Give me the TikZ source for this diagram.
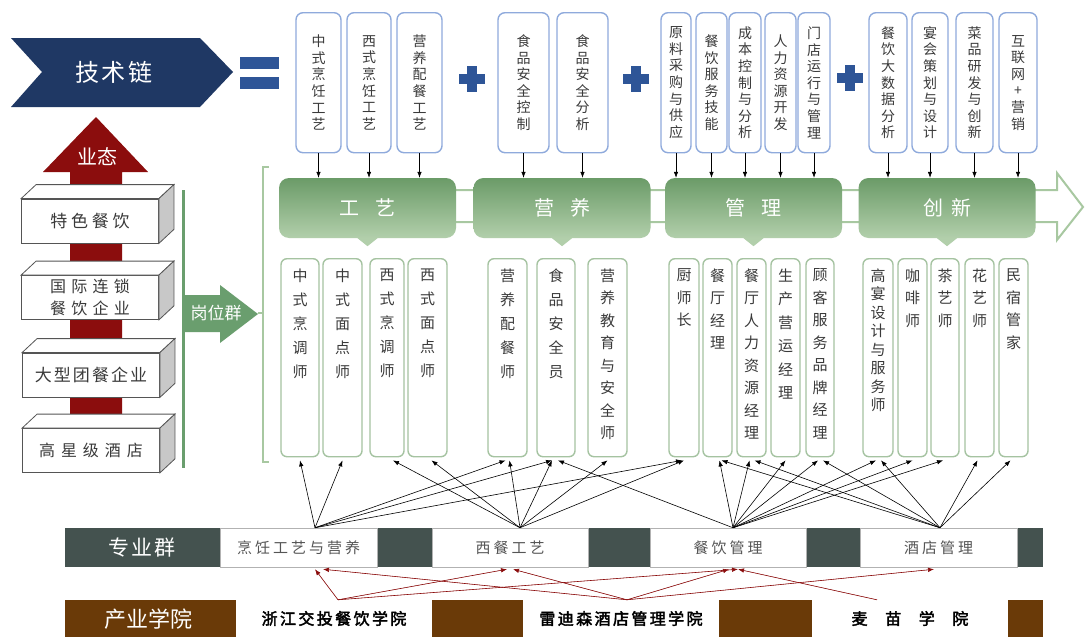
\documentclass[tikz,border=0pt]{standalone}
\usepackage{fontspec}
\setmainfont{Noto Sans CJK SC}
\newfontfamily\cjkbold{Noto Sans CJK SC}[FakeBold=2.5]
\usetikzlibrary{arrows.meta,calc}

\definecolor{navy}{HTML}{1F3864}
\definecolor{plusblue}{HTML}{2E5597}
\definecolor{darkred}{HTML}{8B0D0D}
\definecolor{arrgreen}{HTML}{6A9E6E}
\definecolor{catdark}{HTML}{6B9B68}
\definecolor{catlight}{HTML}{B2CFAB}
\definecolor{paleline}{HTML}{A8C8A1}
\definecolor{topline}{HTML}{8FAADC}
\definecolor{jobline}{HTML}{A5C3A1}
\definecolor{cubeline}{HTML}{555555}
\definecolor{cubeside}{HTML}{C8C8C8}
\definecolor{slate}{HTML}{44524F}
\definecolor{brownband}{HTML}{6A3A08}
\definecolor{txtgray}{HTML}{3A3A3A}
\definecolor{zytext}{HTML}{555555}

\tikzset{
  chainbox/.style={draw=topline, line width=1.4pt, rounded corners=7pt, fill=white,
    minimum height=140pt, inner sep=0pt, anchor=north, align=center, text=txtgray,
    font=\fontsize{14}{16.6}\selectfont},
  catbox/.style={rounded corners=10pt, top color=catdark, bottom color=catlight,
    minimum width=177pt, minimum height=60pt, text=white,
    font=\fontsize{20}{24}\selectfont},
  jobbox/.style={draw=jobline, line width=1.4pt, rounded corners=6pt, fill=white,
    minimum height=198pt, inner xsep=0pt, inner ysep=6pt, anchor=north, text=txtgray},
  cubefront/.style={draw=cubeline, line width=0.8pt, fill=white, minimum width=137pt,
    minimum height=44pt, text=txtgray, align=center},
  chainarrow/.style={-{Latex[length=6pt,width=4.5pt]}, line width=0.6pt},
  jobarrow/.style={-{Latex[length=6pt,width=4.5pt]}, line width=0.6pt},
  redarrow/.style={-{Latex[length=6pt,width=4.5pt]}, line width=0.6pt, draw=darkred, fill=darkred},
  zybox/.style={draw=gray!60, line width=0.5pt, fill=white, minimum height=39pt, text=zytext,
    font=\fontsize{15}{18}\selectfont\addfontfeatures{LetterSpace=20}},
  cybox/.style={fill=white, minimum height=37pt, minimum width=196pt, text=black,
    font=\cjkbold\fontsize{16}{19}\selectfont\addfontfeatures{LetterSpace=15}},
}

\newcommand\jobtext[2][22.5]{\parbox[t][186pt][t]{16pt}{\centering\fontsize{15}{#1}\selectfont\vspace*{4pt}#2}}

\begin{document}
\begin{tikzpicture}[x=1pt, y=-1pt]
\useasboundingbox (0,0) rectangle (1085,637);
\fill[white] (0,0) rectangle (1085,637);

% technology chain banner
\fill[navy] (11,38) -- (200,38) -- (233,72) -- (200,107) -- (11,107) -- (42,72) -- cycle;
\node[text=white, font=\fontsize{24}{28}\selectfont\addfontfeatures{LetterSpace=12}] (jsl) at (114,72) {技术链};
\fill[plusblue] (240,57) rectangle (279,69);
\fill[plusblue] (240,77) rectangle (279,89);
\foreach \cx/\cy in {471.5/79, 636/79, 849.5/78} {
  \fill[plusblue] (\cx-13,\cy-5) rectangle (\cx+13,\cy+5);
  \fill[plusblue] (\cx-5,\cy-13) rectangle (\cx+5,\cy+13);
}

% chain items
\node[chainbox, minimum width=45pt] (t1) at (318.5,12) {中\\式\\烹\\饪\\工\\艺};
\node[chainbox, minimum width=44pt] (t2) at (369,12) {西\\式\\烹\\饪\\工\\艺};
\node[chainbox, minimum width=45pt] (t3) at (419.5,12) {营\\养\\配\\餐\\工\\艺};
\node[chainbox, minimum width=51pt] (t4) at (523.5,12) {食\\品\\安\\全\\控\\制};
\node[chainbox, minimum width=51pt] (t5) at (582.5,12) {食\\品\\安\\全\\分\\析};
\node[chainbox, minimum width=30pt] (t6) at (676,12) {原\\料\\采\\购\\与\\供\\应};
\node[chainbox, minimum width=31pt] (t7) at (711.5,12) {餐\\饮\\服\\务\\技\\能};
\node[chainbox, minimum width=32pt] (t8) at (745,12) {成\\本\\控\\制\\与\\分\\析};
\node[chainbox, minimum width=31pt] (t9) at (780.5,12) {人\\力\\资\\源\\开\\发};
\node[chainbox, minimum width=32pt] (t10) at (814,12) {门\\店\\运\\行\\与\\管\\理};
\node[chainbox, minimum width=38pt] (t11) at (888,12) {餐\\饮\\大\\数\\据\\分\\析};
\node[chainbox, minimum width=36pt] (t12) at (930,12) {宴\\会\\策\\划\\与\\设\\计};
\node[chainbox, minimum width=37pt] (t13) at (974.5,12) {菜\\品\\研\\发\\与\\创\\新};
\node[chainbox, minimum width=38pt] (t14) at (1018,12) {互\\联\\网\\+\\营\\销};

% hollow arrow behind the categories
\draw[paleline, line width=2pt, line join=miter, fill=white] (285,190) -- (1057,190) -- (1057,173)
  -- (1083,207) -- (1057,240) -- (1057,222) -- (285,222);

% categories
\node[catbox] (g1) at (367.5,208) {工\hspace{16pt}艺};
\node[catbox] (g2) at (562,208) {营\hspace{16pt}养};
\node[catbox] (g3) at (753.5,208) {管\hspace{16pt}理};
\node[catbox] (g4) at (947,208) {创\hspace{8pt}新};
\foreach \g in {g1,g2,g3,g4}
  \fill[catlight] ([xshift=-10pt]\g.south) -- ([yshift=-8pt]\g.south) -- ([xshift=10pt]\g.south) -- cycle;

\foreach \t/\g in {t1/g1,t2/g1,t3/g1,t4/g2,t5/g2,t6/g3,t7/g3,t8/g3,t9/g3,t10/g3,t11/g4,t12/g4,t13/g4,t14/g4}
  \draw[chainarrow] (\t.south) -- (\t.south |- \g.north);

% business forms
\fill[darkred] (70,470) -- (70,172) -- (43,172) -- (96,117) -- (148,172) -- (122,172) -- (122,470) -- cycle;
\node[text=white, font=\fontsize{20}{24}\selectfont] (yt) at (97,157) {业态};

\node[cubefront, font=\fontsize{17}{20}\selectfont\addfontfeatures{LetterSpace=22}] (c1) at (90,221) {特色餐饮};
\node[cubefront, font=\fontsize{16}{22}\selectfont\addfontfeatures{LetterSpace=33}] (c2) at (90,297.5) {国际连锁\\餐饮企业};
\node[cubefront, font=\fontsize{17}{20}\selectfont\addfontfeatures{LetterSpace=12}] (c3) at (91,375) {大型团餐企业};
\node[cubefront, font=\fontsize{16}{20}\selectfont\addfontfeatures{LetterSpace=37}] (c4) at (91,450.5) {高星级酒店};
\foreach \c in {c1,c2,c3,c4} {
  \filldraw[fill=white, draw=cubeline, line width=0.8pt] (\c.north west) -- ++(15,-14)
    -- ($(\c.north east)+(15,-14)$) -- (\c.north east) -- cycle;
  \filldraw[fill=cubeside, draw=cubeline, line width=0.8pt] (\c.north east) -- ++(15,-14)
    -- ($(\c.south east)+(15,-14)$) -- (\c.south east) -- cycle;
}

% post group
\draw[arrgreen, line width=3pt] (183,190) -- (183,468);
\fill[arrgreen] (183,295) -- (220,295) -- (220,285) -- (258,314) -- (220,343) -- (220,332) -- (183,332) -- cycle;
\node[text=white, font=\fontsize{17}{20}\selectfont] (gwq) at (216,313) {岗位群};
\draw[paleline, line width=2pt] (269,167) -- (263,167) -- (263,462) -- (269,462);
\draw[paleline, line width=2pt] (263,313) -- (258,313);

\node[jobbox, minimum width=38pt] (j1) at (300,258) {\jobtext[24]{中\\式\\烹\\调\\师}};
\node[jobbox, minimum width=39pt] (j2) at (342.5,258) {\jobtext[24]{中\\式\\面\\点\\师}};
\node[jobbox, minimum width=34pt] (j3) at (387,258) {\jobtext[24]{西\\式\\烹\\调\\师}};
\node[jobbox, minimum width=39pt] (j4) at (427.5,258) {\jobtext[24]{西\\式\\面\\点\\师}};
\node[jobbox, minimum width=39pt] (j5) at (507.5,258) {\jobtext[24]{营\\养\\配\\餐\\师}};
\node[jobbox, minimum width=38pt] (j6) at (556,258) {\jobtext[24]{食\\品\\安\\全\\员}};
\node[jobbox, minimum width=39pt] (j7) at (607.5,258) {\jobtext{营\\养\\教\\育\\与\\安\\全\\师}};
\node[jobbox, minimum width=30pt] (j8) at (684,258) {\jobtext{厨\\师\\长}};
\node[jobbox, minimum width=29pt] (j9) at (717.5,258) {\jobtext{餐\\厅\\经\\理}};
\node[jobbox, minimum width=29pt] (j10) at (751.5,258) {\jobtext{餐\\厅\\人\\力\\资\\源\\经\\理}};
\node[jobbox, minimum width=29pt] (j11) at (785.5,258) {\jobtext[23.5]{生\\产\\营\\运\\经\\理}};
\node[jobbox, minimum width=28pt] (j12) at (820,258) {\jobtext{顾\\客\\服\\务\\品\\牌\\经\\理}};
\node[jobbox, minimum width=30pt] (j13) at (878,258) {\jobtext[18.5]{高\\宴\\设\\计\\与\\服\\务\\师}};
\node[jobbox, minimum width=29pt] (j14) at (912.5,258) {\jobtext{咖\\啡\\师}};
\node[jobbox, minimum width=28pt] (j15) at (945,258) {\jobtext{茶\\艺\\师}};
\node[jobbox, minimum width=29pt] (j16) at (979.5,258) {\jobtext{花\\艺\\师}};
\node[jobbox, minimum width=29pt] (j17) at (1013.5,258) {\jobtext{民\\宿\\管\\家}};

% specialty group band
\fill[slate] (65,528) rectangle (1043,567);
\node[text=white, font=\fontsize{21}{24}\selectfont\addfontfeatures{LetterSpace=8}] (zyl) at (142,547.5) {专业群};
\node[zybox, minimum width=157pt] (zy1) at (298.5,547.5) {烹饪工艺与营养};
\node[zybox, minimum width=156pt] (zy2) at (510,547.5) {西餐工艺};
\node[zybox, minimum width=156pt] (zy3) at (728,547.5) {餐饮管理};
\node[zybox, minimum width=157pt] (zy4) at (938.5,547.5) {酒店管理};

% industry college band
\fill[brownband] (65,600) rectangle (1043,637);
\node[text=white, font=\fontsize{22}{26}\selectfont] (cyl) at (148,619) {产业学院};
\node[cybox] (cy1) at (334,618.5) {浙江交投餐饮学院};
\node[cybox] (cy2) at (621,618.5) {雷迪森酒店管理学院};
\node[cybox, font=\cjkbold\fontsize{16}{19}\selectfont\addfontfeatures{LetterSpace=110}] (cy3) at (910,618.5) {麦苗学院};

% specialties to posts
\coordinate (p1) at ([xshift=16.5]zy1.north);
\coordinate (p2) at ([xshift=10]zy2.north);
\coordinate (p3) at ([xshift=5]zy3.north);
\coordinate (p4) at ([xshift=1.5]zy4.north);
\foreach \s/\j/\o in {p1/j1/0, p1/j2/0, p1/j5/-2, p1/j6/-4, p1/j8/-2,
    p2/j3/6, p2/j4/4, p2/j5/2, p2/j6/-4, p2/j7/0, p2/j8/0,
    p3/j6/2, p3/j9/2, p3/j10/-2, p3/j11/0, p3/j12/-2, p3/j13/-2, p3/j14/0, p3/j15/-2,
    p4/j9/4, p4/j10/3, p4/j12/3, p4/j13/3, p4/j16/-2, p4/j17/-3}
  \draw[jobarrow] (\s) -- ([xshift=\o, yshift=-3pt]\j.south);

% colleges to specialties
\coordinate (q1) at ([xshift=4]cy1.north);
\coordinate (q2) at ([xshift=6]cy2.north);
\coordinate (q3) at ([xshift=-33]cy3.north);
\foreach \s/\z/\o in {q1/zy1/16.5, q1/zy2/-3, q1/zy3/10, q2/zy1/24.5, q2/zy2/3, q2/zy3/1, q2/zy4/-4.5, q3/zy3/10}
  \draw[redarrow] (\s) -- ([xshift=\o, yshift=-2pt]\z.south);
\end{tikzpicture}
\end{document}
